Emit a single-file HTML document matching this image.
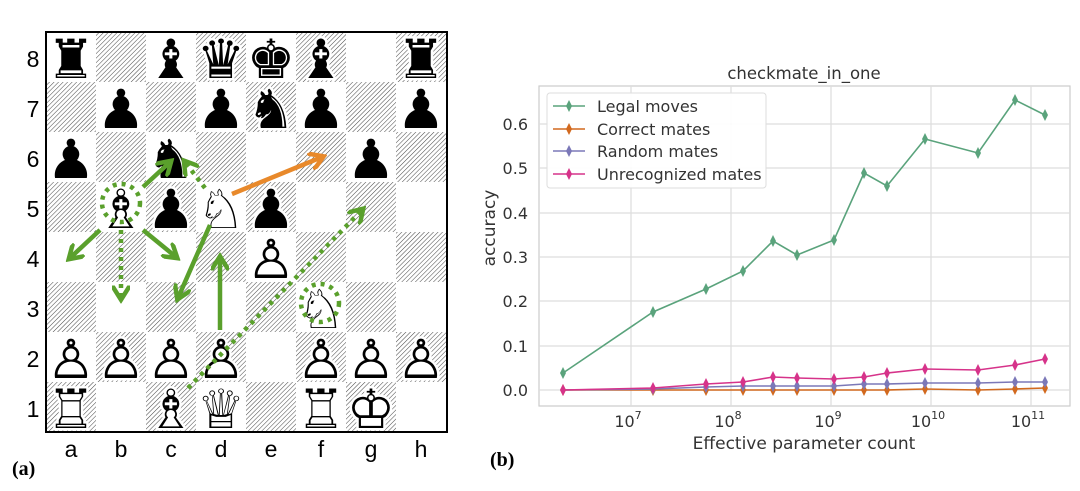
<!DOCTYPE html>
<html><head><meta charset="utf-8"><style>
html,body{margin:0;padding:0;background:#fff;}
svg{display:block;}
</style></head><body>
<svg width="1080" height="491" viewBox="0 0 1080 491" xmlns="http://www.w3.org/2000/svg">
<defs>
<pattern id="h" patternUnits="userSpaceOnUse" width="3.2" height="3.2" patternTransform="rotate(45)">
<rect width="3.2" height="3.2" fill="#fff"/>
<line x1="0" y1="0" x2="0" y2="3.2" stroke="#444" stroke-width="1"/>
</pattern>
<marker id="ag" viewBox="0 0 10 10" refX="7" refY="5" markerWidth="4" markerHeight="4" orient="auto"><path d="M0,0 L8,5 L0,10" fill="none" stroke="#5aa02c" stroke-width="2.5"/></marker>
<marker id="ao" viewBox="0 0 10 10" refX="7" refY="5" markerWidth="4" markerHeight="4" orient="auto"><path d="M0,0 L8,5 L0,10" fill="none" stroke="#e8892b" stroke-width="2.5"/></marker>
</defs>
<g>
<rect x="46" y="32" width="401" height="400" fill="#fff"/>
<g fill="url(#h)">
<rect x="96" y="32" width="50" height="50"/><rect x="196" y="32" width="50" height="50"/><rect x="296" y="32" width="50" height="50"/><rect x="396" y="32" width="51" height="50"/>
<rect x="46" y="82" width="50" height="50"/><rect x="146" y="82" width="50" height="50"/><rect x="246" y="82" width="50" height="50"/><rect x="346" y="82" width="50" height="50"/>
<rect x="96" y="132" width="50" height="50"/><rect x="196" y="132" width="50" height="50"/><rect x="296" y="132" width="50" height="50"/><rect x="396" y="132" width="51" height="50"/>
<rect x="46" y="182" width="50" height="50"/><rect x="146" y="182" width="50" height="50"/><rect x="246" y="182" width="50" height="50"/><rect x="346" y="182" width="50" height="50"/>
<rect x="96" y="232" width="50" height="50"/><rect x="196" y="232" width="50" height="50"/><rect x="296" y="232" width="50" height="50"/><rect x="396" y="232" width="51" height="50"/>
<rect x="46" y="282" width="50" height="50"/><rect x="146" y="282" width="50" height="50"/><rect x="246" y="282" width="50" height="50"/><rect x="346" y="282" width="50" height="50"/>
<rect x="96" y="332" width="50" height="50"/><rect x="196" y="332" width="50" height="50"/><rect x="296" y="332" width="50" height="50"/><rect x="396" y="332" width="51" height="50"/>
<rect x="46" y="382" width="50" height="50"/><rect x="146" y="382" width="50" height="50"/><rect x="246" y="382" width="50" height="50"/><rect x="346" y="382" width="50" height="50"/>
</g>
<rect x="46" y="32" width="401" height="400" fill="none" stroke="#000" stroke-width="2"/>
</g>
<g font-family="DejaVu Sans, sans-serif" font-size="54" text-anchor="middle" fill="#fff" stroke="#fff" stroke-width="5" stroke-linejoin="round">
<text x="71" y="78">♜</text><text x="171" y="78">♝</text><text x="221" y="78">♛</text><text x="271" y="78">♚</text><text x="321" y="78">♝</text><text x="421" y="78">♜</text>
<text x="121" y="128">♟</text><text x="221" y="128">♟</text><text x="271" y="128">♞</text><text x="321" y="128">♟</text><text x="421" y="128">♟</text>
<text x="71" y="178">♟</text><text x="171" y="178">♞</text><text x="371" y="178">♟</text>
<text x="121" y="228">♝</text><text x="171" y="228">♟</text><text x="221" y="228">♞</text><text x="271" y="228">♟</text>
<text x="271" y="278">♟</text>
<text x="321" y="328">♞</text>
<text x="71" y="378">♟</text><text x="121" y="378">♟</text><text x="171" y="378">♟</text><text x="221" y="378">♟</text><text x="321" y="378">♟</text><text x="371" y="378">♟</text><text x="421" y="378">♟</text>
<text x="71" y="428">♜</text><text x="171" y="428">♝</text><text x="221" y="428">♛</text><text x="321" y="428">♜</text><text x="371" y="428">♚</text>
</g>
<g font-family="DejaVu Sans, sans-serif" font-size="54" text-anchor="middle" fill="#000">
<text x="71" y="78">♜</text><text x="171" y="78">♝</text><text x="221" y="78">♛</text><text x="271" y="78">♚</text><text x="321" y="78">♝</text><text x="421" y="78">♜</text>
<text x="121" y="128">♟</text><text x="221" y="128">♟</text><text x="271" y="128">♞</text><text x="321" y="128">♟</text><text x="421" y="128">♟</text>
<text x="71" y="178">♟</text><text x="171" y="178">♞</text><text x="371" y="178">♟</text>
<text x="121" y="228">♗</text><text x="171" y="228">♟</text><text x="221" y="228">♘</text><text x="271" y="228">♟</text>
<text x="271" y="278">♙</text>
<text x="321" y="328">♘</text>
<text x="71" y="378">♙</text><text x="121" y="378">♙</text><text x="171" y="378">♙</text><text x="221" y="378">♙</text><text x="321" y="378">♙</text><text x="371" y="378">♙</text><text x="421" y="378">♙</text>
<text x="71" y="428">♖</text><text x="171" y="428">♗</text><text x="221" y="428">♕</text><text x="321" y="428">♖</text><text x="371" y="428">♔</text>
</g>
<g stroke="#5aa02c" stroke-width="4.5" fill="none" stroke-linecap="butt">
<line x1="143" y1="187" x2="170" y2="162" marker-end="url(#ag)"/>
<line x1="100" y1="230" x2="70" y2="258" marker-end="url(#ag)"/>
<line x1="143" y1="230" x2="176" y2="257" marker-end="url(#ag)"/>
<line x1="210" y1="225" x2="178" y2="298" marker-end="url(#ag)"/>
<line x1="220" y1="330" x2="220" y2="258" marker-end="url(#ag)"/>
<g stroke-dasharray="4,5">
<line x1="205" y1="188" x2="185" y2="162" marker-end="url(#ag)"/>
<line x1="121" y1="230" x2="121" y2="298" marker-end="url(#ag)"/>
<line x1="188" y1="388" x2="362" y2="210" marker-end="url(#ag)"/>
<circle cx="121" cy="203" r="19"/>
<circle cx="320" cy="303" r="19"/>
</g>
</g>
<line x1="232" y1="194" x2="322" y2="157" stroke="#e8892b" stroke-width="4.5" marker-end="url(#ao)"/>
<g font-family="Liberation Sans, sans-serif" font-size="23" fill="#000" text-anchor="middle">
<text x="33" y="67">8</text><text x="33" y="117">7</text><text x="33" y="167">6</text><text x="33" y="217">5</text><text x="33" y="267">4</text><text x="33" y="317">3</text><text x="33" y="367">2</text><text x="33" y="417">1</text>
<text x="71" y="457">a</text><text x="121" y="457">b</text><text x="171" y="457">c</text><text x="221" y="457">d</text><text x="271" y="457">e</text><text x="321" y="457">f</text><text x="371" y="457">g</text><text x="421" y="457">h</text>
</g>
<text x="12" y="475" font-family="Liberation Serif, serif" font-weight="bold" font-size="20">(a)</text>

<g font-family="DejaVu Sans, sans-serif">
<rect x="539" y="86" width="531" height="320" fill="#fff" stroke="#ccc" stroke-width="1.2"/>
<g stroke="#ddd" stroke-width="1.2">
<line x1="631" y1="86" x2="631" y2="406"/><line x1="731" y1="86" x2="731" y2="406"/><line x1="831" y1="86" x2="831" y2="406"/><line x1="931" y1="86" x2="931" y2="406"/><line x1="1031" y1="86" x2="1031" y2="406"/>
<line x1="539" y1="390" x2="1070" y2="390"/><line x1="539" y1="346" x2="1070" y2="346"/><line x1="539" y1="301" x2="1070" y2="301"/><line x1="539" y1="257" x2="1070" y2="257"/><line x1="539" y1="213" x2="1070" y2="213"/><line x1="539" y1="168" x2="1070" y2="168"/><line x1="539" y1="124" x2="1070" y2="124"/>
</g>
<g font-size="16" fill="#333" text-anchor="end">
<text x="528" y="396">0.0</text><text x="528" y="352">0.1</text><text x="528" y="307">0.2</text><text x="528" y="263">0.3</text><text x="528" y="219">0.4</text><text x="528" y="174">0.5</text><text x="528" y="130">0.6</text>
</g>
<g font-size="16" fill="#333" text-anchor="middle">
<text x="628" y="427">10<tspan font-size="11" dy="-8">7</tspan></text>
<text x="728" y="427">10<tspan font-size="11" dy="-8">8</tspan></text>
<text x="828" y="427">10<tspan font-size="11" dy="-8">9</tspan></text>
<text x="928" y="427">10<tspan font-size="11" dy="-8">10</tspan></text>
<text x="1028" y="427">10<tspan font-size="11" dy="-8">11</tspan></text>
</g>
<text x="804" y="79" font-size="16.5" fill="#333" text-anchor="middle">checkmate_in_one</text>
<text x="804" y="449" font-size="17" fill="#333" text-anchor="middle">Effective parameter count</text>
<text transform="translate(495,228) rotate(-90)" font-size="17" fill="#333" text-anchor="middle">accuracy</text>

<g fill="none" stroke-width="1.6">
<polyline stroke="#d2691e" points="563,390 653,390 706,390 743,390 773,390 797,390 834,390 864,390 887,390 925,389 978,390 1015,389 1045,388"/>
<polyline stroke="#7b78b8" points="563,390 653,389 706,387 743,386 773,386 797,386 834,386 864,384 887,384 925,383 978,383 1015,382 1045,382"/>
<polyline stroke="#d6338a" points="563,390 653,388 706,384 743,382 773,377 797,378 834,379 864,377 887,373 925,369 978,370 1015,365 1045,359"/>
<polyline stroke="#5aa37c" points="563,373 653,312 706,289 743,271 773,241 797,255 834,240 864,173 887,186 925,139 978,153 1015,100 1045,115"/>
</g>
<g fill="#d2691e"><path d="M563,384 l3,6 -3,6 -3,-6z M653,384 l3,6 -3,6 -3,-6z M706,384 l3,6 -3,6 -3,-6z M743,384 l3,6 -3,6 -3,-6z M773,384 l3,6 -3,6 -3,-6z M797,384 l3,6 -3,6 -3,-6z M834,384 l3,6 -3,6 -3,-6z M864,384 l3,6 -3,6 -3,-6z M887,384 l3,6 -3,6 -3,-6z M925,383 l3,6 -3,6 -3,-6z M978,384 l3,6 -3,6 -3,-6z M1015,383 l3,6 -3,6 -3,-6z M1045,382 l3,6 -3,6 -3,-6z"/></g>
<g fill="#7b78b8"><path d="M653,383 l3,6 -3,6 -3,-6z M706,381 l3,6 -3,6 -3,-6z M743,380 l3,6 -3,6 -3,-6z M773,380 l3,6 -3,6 -3,-6z M797,380 l3,6 -3,6 -3,-6z M834,380 l3,6 -3,6 -3,-6z M864,378 l3,6 -3,6 -3,-6z M887,378 l3,6 -3,6 -3,-6z M925,377 l3,6 -3,6 -3,-6z M978,377 l3,6 -3,6 -3,-6z M1015,376 l3,6 -3,6 -3,-6z M1045,376 l3,6 -3,6 -3,-6z"/></g>
<g fill="#d6338a"><path d="M563,384 l3,6 -3,6 -3,-6z M653,382 l3,6 -3,6 -3,-6z M706,378 l3,6 -3,6 -3,-6z M743,376 l3,6 -3,6 -3,-6z M773,371 l3,6 -3,6 -3,-6z M797,372 l3,6 -3,6 -3,-6z M834,373 l3,6 -3,6 -3,-6z M864,371 l3,6 -3,6 -3,-6z M887,367 l3,6 -3,6 -3,-6z M925,363 l3,6 -3,6 -3,-6z M978,364 l3,6 -3,6 -3,-6z M1015,359 l3,6 -3,6 -3,-6z M1045,353 l3,6 -3,6 -3,-6z"/></g>
<g fill="#5aa37c"><path d="M563,367 l3,6 -3,6 -3,-6z M653,306 l3,6 -3,6 -3,-6z M706,283 l3,6 -3,6 -3,-6z M743,265 l3,6 -3,6 -3,-6z M773,235 l3,6 -3,6 -3,-6z M797,249 l3,6 -3,6 -3,-6z M834,234 l3,6 -3,6 -3,-6z M864,167 l3,6 -3,6 -3,-6z M887,180 l3,6 -3,6 -3,-6z M925,133 l3,6 -3,6 -3,-6z M978,147 l3,6 -3,6 -3,-6z M1015,94 l3,6 -3,6 -3,-6z M1045,109 l3,6 -3,6 -3,-6z"/></g>

<rect x="547" y="93" width="219" height="95" rx="3" fill="#fff" fill-opacity="0.9" stroke="#ddd"/>
<g stroke-width="1.6">
<line x1="553" y1="106" x2="585" y2="106" stroke="#5aa37c"/><path d="M569,100 l3,6 -3,6 -3,-6z" fill="#5aa37c"/>
<line x1="553" y1="129" x2="585" y2="129" stroke="#d2691e"/><path d="M569,123 l3,6 -3,6 -3,-6z" fill="#d2691e"/>
<line x1="553" y1="151" x2="585" y2="151" stroke="#7b78b8"/><path d="M569,145 l3,6 -3,6 -3,-6z" fill="#7b78b8"/>
<line x1="553" y1="174" x2="585" y2="174" stroke="#d6338a"/><path d="M569,168 l3,6 -3,6 -3,-6z" fill="#d6338a"/>
</g>
<g font-size="16" fill="#333">
<text x="597" y="112">Legal moves</text>
<text x="597" y="135">Correct mates</text>
<text x="597" y="157">Random mates</text>
<text x="597" y="180">Unrecognized mates</text>
</g>
</g>
<text x="490" y="466" font-family="Liberation Serif, serif" font-weight="bold" font-size="20">(b)</text>
</svg>
</body></html>
